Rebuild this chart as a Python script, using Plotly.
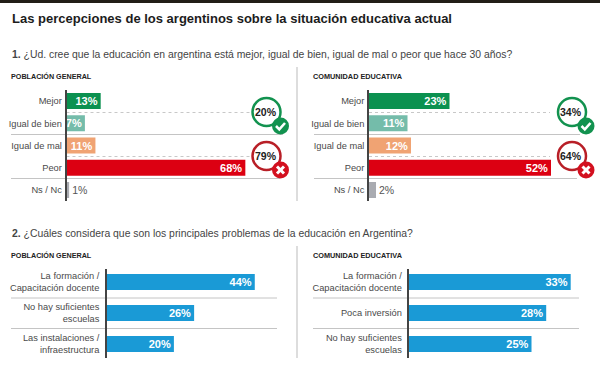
import plotly.graph_objects as go

W, H = 600, 365
TITLE = "Las percepciones de los argentinos sobre la situación educativa actual"
Q1_NUM, Q1 = "1.", "¿Ud. cree que la educación en argentina está mejor, igual de bien, igual de mal o peor que hace 30 años?"
Q2_NUM, Q2 = "2.", "¿Cuáles considera que son los principales problemas de la educación en Argentina?"
GENERAL = "POBLACIÓN GENERAL"
COMUNIDAD = "COMUNIDAD EDUCATIVA"

opinion_cats = ["Mejor", "Igual de bien", "Igual de mal", "Peor", "Ns / Nc"]
opinion_general = [13, 7, 11, 68, 1]
opinion_comunidad = [23, 11, 12, 52, 2]
opinion_colors = ["#0b9150", "#74bcaa", "#f0a373", "#dc0012", "#a9abb1"]
resumen_general = ["20%", "79%"]
resumen_comunidad = ["34%", "64%"]

problemas_general_cats = ["La formación /<br>Capacitación docente", "No hay suficientes<br>escuelas",
                          "Las instalaciones /<br>infraestructura"]
problemas_general = [44, 26, 20]
problemas_comunidad_cats = ["La formación /<br>Capacitación docente", "Poca inversión",
                            "No hay suficientes<br>escuelas"]
problemas_comunidad = [33, 28, 25]
BLUE = "#1a9ad6"

FONT = "Liberation Sans"
GREEN_C, RED_C = "#12924f", "#b81f27"


def X(p):
    return p / W


def Y(p):
    return 1 - p / H


fig = go.Figure()
layout = dict(
    width=W, height=H, autosize=False, margin=dict(l=0, r=0, t=0, b=0),
    paper_bgcolor="white", plot_bgcolor="rgba(0,0,0,0)", showlegend=False,
    font=dict(family=FONT, color="#444"), barmode="overlay",
)
shapes, annots = [], []


def panel(n, cats, vals, colors, x0, ppu, top, bottom, rowtop, step, width, ticklen):
    sfx = "" if n == 1 else str(n)
    right = 292 if x0 < 300 else 596
    r0 = (top - rowtop) / step
    r1 = (bottom - rowtop) / step
    fig.add_trace(go.Bar(
        x=vals, y=list(range(len(cats))), orientation="h", width=width,
        marker=dict(color=colors, line=dict(width=0)),
        text=[f"{v}%" for v in vals],
        textposition=["outside" if v <= 2 else "inside" for v in vals],
        insidetextanchor="end", constraintext="none", cliponaxis=False,
        textangle=0,
        textfont=dict(family=FONT, size=[10.5 if v <= 2 else 11 for v in vals],
                      color=["#555" if v <= 2 else "white" for v in vals],
                      weight=[400 if v <= 2 else 700 for v in vals]),
        hoverinfo="skip", xaxis="x" + sfx, yaxis="y" + sfx,
    ))
    layout["xaxis" + sfx] = dict(domain=[X(x0), X(right)], range=[0, (right - x0) / ppu],
                                 visible=False, anchor="y" + sfx, fixedrange=True)
    layout["yaxis" + sfx] = dict(domain=[Y(bottom), Y(top)], range=[r1, r0], anchor="x" + sfx,
                                 tickmode="array", tickvals=list(range(len(cats))), ticktext=cats,
                                 ticks="outside", ticklen=ticklen, tickcolor="rgba(0,0,0,0)",
                                 showgrid=False, zeroline=False, showline=True, linecolor="#444",
                                 linewidth=1.5, tickfont=dict(family=FONT, size=9.3, color="#4a4a4a"),
                                 fixedrange=True)


panel(1, opinion_cats, opinion_general, opinion_colors, 66.5, 2.63, 90, 201, 101, 22.25, 0.72, 1)
panel(2, opinion_cats, opinion_comunidad, opinion_colors, 369, 3.5, 90, 201, 101, 22.25, 0.72, 1)
panel(3, problemas_general_cats, problemas_general, [BLUE] * 3, 106.5, 3.37, 269, 358, 282, 31, 0.52, 3.5)
panel(4, problemas_comunidad_cats, problemas_comunidad, [BLUE] * 3, 409, 4.9, 269, 358, 282, 31, 0.52, 3.5)


def line(x0, y0, x1, y1, color="#c4c4c4", w=1, dash="solid"):
    shapes.append(dict(type="line", xref="paper", yref="paper", x0=X(x0), x1=X(x1), y0=Y(y0), y1=Y(y1),
                       line=dict(color=color, width=w, dash=dash), layer="below"))


def text(x, y, s, size, color="#333", bold=False, anchor="left", family=FONT):
    annots.append(dict(xref="paper", yref="paper", x=X(x), y=Y(y), text=f"<b>{s}</b>" if bold else s,
                       showarrow=False, xanchor=anchor, yanchor="middle",
                       font=dict(size=size, color=color, family=family)))


# top rule, dividers
shapes.append(dict(type="rect", xref="paper", yref="paper", x0=0, x1=1, y0=Y(3), y1=1,
                   fillcolor="#221e17", line=dict(width=0), layer="above"))
line(297, 67, 297, 201, "#bbb")
line(297, 246, 297, 358, "#bbb")

# separators
for a, axis_x, b in [(11, 66.5, 283), (314, 369, 580)]:
    line(a, 134.5, b, 134.5)
    line(a, 178.5, b - 3, 178.5)
    line(axis_x, 112.5, b - 30, 112.5, "#c8c8c8", 1, "dot")
    line(axis_x, 156.5, b - 30, 156.5, "#c8c8c8", 1, "dot")
for a, b in [(11, 277), (313, 579)]:
    line(a, 298, b, 298)
    line(a, 328.5, b, 328.5)

# headings
text(9.5, 18, TITLE, 13, "#1c1c1c", True)
text(9.5, 54, f"<b>{Q1_NUM}</b> {Q1}", 10.4, "#444")
text(9.5, 233, f"<b>{Q2_NUM}</b> {Q2}", 10.4, "#444")
for y in (76, 255):
    text(8.5, y, GENERAL, 7.2, "#222", True)
    text(311, y, COMUNIDAD, 7.3, "#222", True)


def badge(cx, cy, label, good):
    col = GREEN_C if good else RED_C
    shapes.append(dict(type="circle", xref="paper", yref="paper", x0=X(cx - 14), x1=X(cx + 14),
                       y0=Y(cy + 14), y1=Y(cy - 14), fillcolor="white", line=dict(color=col, width=2.5)))
    bx, by = cx + 14, cy + 14
    shapes.append(dict(type="circle", xref="paper", yref="paper", x0=X(bx - 8.5), x1=X(bx + 8.5),
                       y0=Y(by + 8.5), y1=Y(by - 8.5), fillcolor=col if good else "#d3101f",
                       line=dict(color="white", width=0)))
    if good:
        pts = [(-4.5, 0), (-1.2, 3.3), (4.5, -3)]
        path = "M " + " L ".join(f"{X(bx + a)} {Y(by + b)}" for a, b in pts)
        shapes.append(dict(type="path", xref="paper", yref="paper", path=path,
                           line=dict(color="white", width=2.6)))
    else:
        for s in (1, -1):
            shapes.append(dict(type="line", xref="paper", yref="paper", x0=X(bx - 3.5), x1=X(bx + 3.5),
                               y0=Y(by - 3.5 * s), y1=Y(by + 3.5 * s), line=dict(color="white", width=3)))
    text(cx - 1, cy, label, 10.5, "#222", True, "center")


badge(266.5, 112, resumen_general[0], True)
badge(266.5, 156, resumen_general[1], False)
badge(572, 112, resumen_comunidad[0], True)
badge(572, 156, resumen_comunidad[1], False)

layout["shapes"] = shapes
layout["annotations"] = annots
fig.update_layout(**layout)
fig.write_html("out.html", config={"displayModeBar": False},
               post_script="document.body.style.margin='0';document.documentElement.style.overflow='hidden';")
